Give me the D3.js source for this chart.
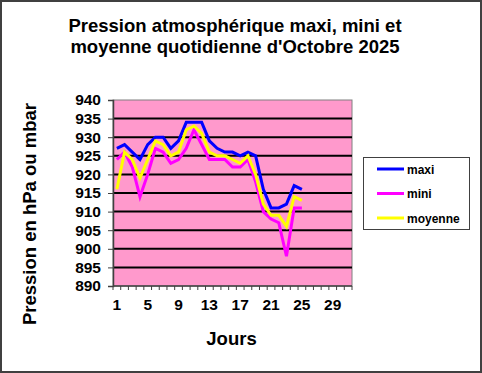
<!DOCTYPE html>
<html><head><meta charset="utf-8">
<script src="https://cdn.jsdelivr.net/npm/d3@7"></script>
<style>
html,body{margin:0;padding:0;background:#fff;}
svg text{font-family:"Liberation Sans",Arial,sans-serif;font-weight:bold;fill:#000;}
</style></head>
<body>
<svg id="c" width="482" height="373"></svg>
<script>
const days = d3.range(1, 32);
const maxi = [927,928,926,924,928,930,930,927,929,934,934,934,929,927,926,926,925,926,925,916,911,911,912,917,916];
const mini = [924,926,922,914,920,927,926,923,924,927,932,928,924,924,924,922,922,924,918,910,908,907,898,911,911];
const moyenne = [916,926,924,919,924,929,928,925,926,932,933,931,926,925,925,924,923,925,920,912,909,909,906,914,913];
const yTicks = [890,895,900,905,910,915,920,925,930,935,940];
const xLabels = [1,5,9,13,17,21,25,29];
const seriesNames = ["maxi","mini","moyenne"];
const seriesColors = ["#0000FF","#FF00FF","#FFFF00"];
const title1 = "Pression atmosphérique maxi, mini et";
const title2 = "moyenne quotidienne d'Octobre 2025";

const svg = d3.select("#c");
const L = 113, R = 352, T = 100, B = 286;

svg.append("rect").attr("x",1).attr("y",1).attr("width",480).attr("height",371)
  .attr("fill","#fff").attr("stroke","#404040").attr("stroke-width",2);

const x = d3.scaleBand().domain(days).range([L, R]).padding(0);
const y = d3.scaleLinear().domain([890, 940]).range([B, T]);

svg.append("rect").attr("x",L).attr("y",T).attr("width",R-L).attr("height",B-T)
  .attr("fill","#FF99CC").attr("stroke","#808080").attr("stroke-width",1);

// gridlines
svg.append("g").selectAll("line").data(yTicks.filter(v => v > 890 && v < 940)).join("line")
  .attr("x1",L).attr("x2",R).attr("y1",d=>y(d)).attr("y2",d=>y(d))
  .attr("stroke","#000").attr("stroke-width",2);

// y axis
const ya = svg.append("g").attr("transform",`translate(${L},0)`)
  .call(d3.axisLeft(y).tickValues(yTicks).tickSize(5).tickPadding(7).tickFormat(d3.format("d")));
ya.select(".domain").attr("stroke","#404040").attr("stroke-width",1.5);
ya.selectAll(".tick line").attr("stroke","#404040");
ya.selectAll("text").style("font-size","15.5px").style("font-family","Liberation Sans, Arial").style("font-weight","bold");

// x axis
const xa = svg.append("g").attr("transform",`translate(0,${B})`);
xa.append("line").attr("x1",L).attr("x2",R).attr("y1",0).attr("y2",0).attr("stroke","#404040").attr("stroke-width",1.5);
xa.selectAll("line.t").data(d3.range(0, days.length+1)).join("line").attr("class","t")
  .attr("x1",i => L + i*x.bandwidth()).attr("x2",i => L + i*x.bandwidth())
  .attr("y1",0).attr("y2",4).attr("stroke","#404040");
xa.selectAll("text").data(xLabels).join("text")
  .attr("x",d => x(d) + x.bandwidth()/2).attr("y",24)
  .attr("text-anchor","middle").style("font-size","15.5px").text(d=>d);

// lines
const data = [maxi, mini, moyenne];
const line = d3.line().x((d,i)=>x(days[i]) + x.bandwidth()/2).y(d=>y(d));
data.forEach((s, k) => {
  svg.append("path").datum(s).attr("d", line).attr("fill","none")
    .attr("stroke", seriesColors[k]).attr("stroke-width",3).attr("stroke-linejoin","miter");
});

// titles
svg.append("text").attr("x",235).attr("y",31.5).attr("text-anchor","middle").style("font-size","18.5px").text(title1);
svg.append("text").attr("x",235).attr("y",53).attr("text-anchor","middle").style("font-size","18.5px").text(title2);
svg.append("text").attr("x",231.5).attr("y",345).attr("text-anchor","middle").style("font-size","18.5px").text("Jours");
svg.append("text").attr("transform","translate(36,214) rotate(-90)").attr("text-anchor","middle").style("font-size","18.5px").text("Pression en hPa ou mbar");

// legend
const lg = svg.append("g");
lg.append("rect").attr("x",363.5).attr("y",157.5).attr("width",106).attr("height",72)
  .attr("fill","#fff").attr("stroke","#404040").attr("stroke-width",1);
const ly = [169, 193.5, 218];
seriesNames.forEach((n,k) => {
  lg.append("line").attr("x1",377).attr("x2",404).attr("y1",ly[k]).attr("y2",ly[k])
    .attr("stroke",seriesColors[k]).attr("stroke-width",3);
  lg.append("text").attr("x",407).attr("y",ly[k]+4.5).style("font-size","12px").text(n);
});
</script>
</body></html>
